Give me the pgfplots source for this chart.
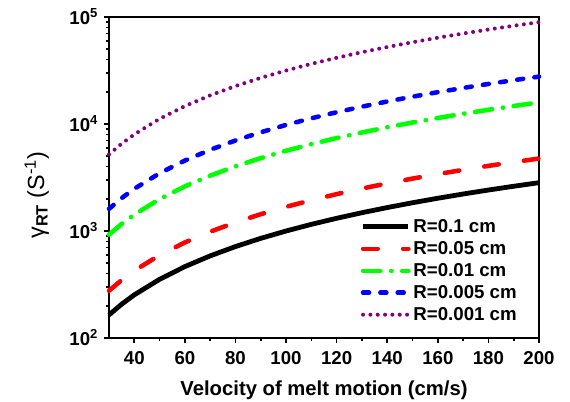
\documentclass[border=0pt]{standalone}
\usepackage{fontspec}
\setmainfont{Liberation Sans}
\usepackage{pgfplots}
\pgfplotsset{compat=1.18}

\definecolor{cpurple}{RGB}{128,0,128}

\begin{document}
\begin{tikzpicture}
\begin{axis}[
    scale only axis,
    width=322.5pt, height=240.75pt,
    ymode=log,
    xmin=30, xmax=200, ymin=100, ymax=100000,
    xtick={40,60,...,200},
    minor x tick num=1,
    ytick={100,1000,10000,100000},
    yticklabels={\textbf{10\textsuperscript{2}},\textbf{10\textsuperscript{3}},\textbf{10\textsuperscript{4}},\textbf{10\textsuperscript{5}}},
    tick pos=left,
    tick align=outside,
    major tick length=3.6pt,
    minor tick length=2pt,
    every tick/.style={black, line width=1.2pt},
    axis line style={line width=1.8pt},
    /pgf/number format/assume math mode=true,
    tick label style={font=\fontsize{14}{16}\selectfont\bfseries},
    xticklabel style={yshift=-3pt},
    yticklabel style={xshift=-1pt},
    xlabel={\textbf{Velocity of melt motion (cm/s)}},
    every axis x label/.style={font=\fontsize{15.2}{17}\selectfont, at={(axis description cs:0.5,-0.162)}, anchor=center},
    legend style={draw=none, fill=none, at={(0.955,0.04)}, anchor=south east,
        font=\fontsize{14}{16}\selectfont\bfseries, row sep=1.2pt,
        inner sep=0pt},
    legend cell align=left,
    legend image code/.code={\draw[#1] (0pt,0pt) -- (34pt,0pt);},
    clip=false,
]
\addplot[black, line width=3.6pt] coordinates {
(30,164.32) (35,207.06) (40,252.98) (50,353.55) (60,464.76) (70,585.66) (80,715.54) (90,853.81)
(100,1000) (110,1153.69) (120,1314.53) (130,1482.23) (140,1656.50) (150,1837.12)
(160,2023.86) (170,2216.53) (180,2414.95) (190,2618.97) (200,2828.43)
};
\addplot[red, line width=3.4pt, line cap=round, dash pattern=on 11pt off 19pt] coordinates {
(30,276.4) (35,348.2) (40,425.5) (50,594.6) (60,781.6) (70,985.0) (80,1203.4) (90,1435.9)
(100,1681.8) (110,1940.3) (120,2210.8) (130,2492.8) (140,2785.9) (150,3089.6)
(160,3403.7) (170,3727.8) (180,4061.5) (190,4404.6) (200,4756.9)
};
\addplot[green, line width=3.4pt, line cap=round, dash pattern=on 13pt off 8pt on 0.3pt off 8pt] coordinates {
(30,924.0) (35,1164.4) (40,1422.6) (50,1988.2) (60,2613.5) (70,3293.4) (80,4023.8) (90,4801.3)
(100,5623.4) (110,6487.6) (120,7392.1) (130,8335.2) (140,9315.1) (150,10330.8)
(160,11380.9) (170,12464.4) (180,13580.2) (190,14727.5) (200,15905.5)
};
\addplot[blue, line width=3.4pt, line cap=round, dash pattern=on 4.5pt off 8.5pt] coordinates {
(30,1610.3) (35,2029.2) (40,2479.2) (50,3464.8) (60,4554.6) (70,5739.5) (80,7012.3) (90,8367.3)
(100,9800) (110,11306.2) (120,12882.4) (130,14525.9) (140,16233.7) (150,18003.8)
(160,19833.8) (170,21722.0) (180,23666.5) (190,25665.9) (200,27718.6)
};
\addplot[cpurple, line width=3pt, line cap=round, dash pattern=on 0pt off 5.5pt] coordinates {
(30,5195.8) (35,6547.3) (40,7999.2) (50,11179.3) (60,14695.7) (70,18518.6) (80,22625.4) (90,26997.5)
(100,31620) (110,36479.7) (120,41565.4) (130,46868.1) (140,52378.5) (150,58089.7)
(160,63994.4) (170,70086.7) (180,76360.7) (190,82811.8) (200,89435.0)
};
\legend{R=0.1 cm, R=0.05 cm, R=0.01 cm, R=0.005 cm, R=0.001 cm}
\node[rotate=90, anchor=center, inner sep=0pt, font=\fontsize{17.5}{20}\selectfont]
    at (axis description cs:-0.168,0.445) {γ\textsubscript{\textbf{RT}}\ (S\textsuperscript{-1})};
\end{axis}
\pgfresetboundingbox
\path ([xshift=-81.75pt,yshift=-47.25pt]current axis.south west) rectangle ([xshift=23.25pt,yshift=12.75pt]current axis.north east);
\end{tikzpicture}
\end{document}
